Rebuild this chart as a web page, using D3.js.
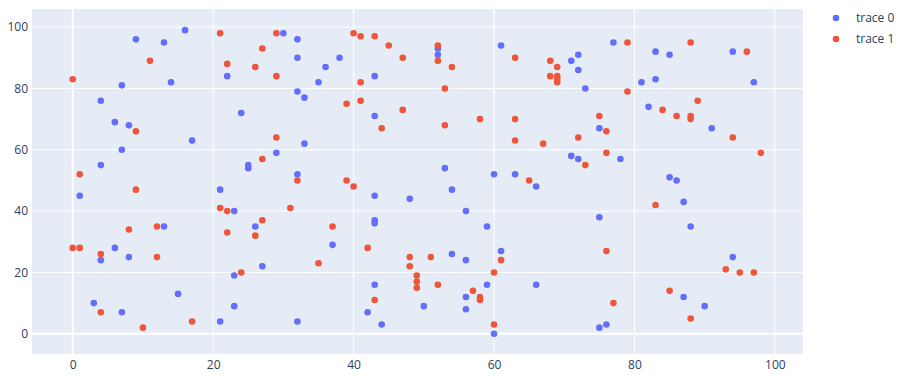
<!DOCTYPE html>
<html>
<head>
<meta charset="utf-8">
<script src="https://cdn.jsdelivr.net/npm/d3@7"></script>
<style>
  html, body { margin: 0; padding: 0; background: #fff; }
  svg { display: block; font-family: "Open Sans", "DejaVu Sans", sans-serif; }
</style>
</head>
<body>
<svg id="chart" width="910" height="379"></svg>
<script>
const traceNames = ["trace 0", "trace 1"];
const traceColors = ["#636efa", "#EF553B"];

const trace0X = [9,13,16,22,7,14,4,6,8,30,32,32,38,36,35,32,33,24,43,43,52,52,61,71,72,72,73,77,83,85,94,81,83,97,82,17,7,4,1,21,13,33,29,25,25,32,43,48,23,26,43,43,75,71,72,78,53,60,63,66,54,56,59,75,91,85,86,87,88,4,6,8,15,3,7,21,37,27,23,23,32,43,42,44,50,54,56,61,56,59,66,56,60,75,76,94,87,90];
const trace0Y = [96,95,99,84,81,82,76,69,68,98,96,90,90,87,82,79,77,72,84,71,93,91,94,89,91,86,80,95,92,91,92,82,83,82,74,63,60,55,45,47,35,62,59,55,54,52,45,44,40,35,37,36,67,58,57,57,54,52,52,48,47,40,35,38,67,51,50,43,35,24,28,25,13,10,7,4,29,22,19,9,4,16,7,3,9,26,24,27,12,16,16,8,0,2,3,25,12,9];

const trace1X = [0,21,11,22,29,27,26,29,40,41,43,45,47,41,39,41,47,52,52,54,53,53,58,63,63,68,69,68,69,69,69,75,79,88,96,79,89,84,86,88,88,9,1,9,21,22,8,12,22,44,29,27,32,39,40,31,27,37,26,63,67,72,76,76,73,65,94,98,83,0,1,4,12,4,10,17,35,24,42,48,48,49,49,49,43,51,61,60,52,57,58,58,60,76,77,93,95,97,85,88];
const trace1Y = [83,98,89,88,98,93,87,84,98,97,97,94,90,82,75,76,73,94,89,87,80,68,70,90,70,89,87,84,84,83,82,71,95,95,92,79,76,73,71,71,70,66,52,47,41,40,34,35,33,67,64,57,50,50,48,41,37,35,32,63,62,64,66,59,55,50,64,59,42,28,28,26,25,7,2,4,23,20,28,25,22,19,17,15,11,25,24,20,16,14,12,11,3,27,10,21,20,20,14,5];

const xTicks = [0, 20, 40, 60, 80, 100];
const yTicks = [0, 20, 40, 60, 80, 100];

const svg = d3.select("#chart");
const plot = { left: 32, top: 9, right: 803, bottom: 354 };

const x = d3.scaleLinear().domain([-5.8, 104.0]).range([plot.left, plot.right]);
const y = d3.scaleLinear().domain([-6.6, 105.9]).range([plot.bottom, plot.top]);

svg.append("rect")
  .attr("x", plot.left).attr("y", plot.top)
  .attr("width", plot.right - plot.left).attr("height", plot.bottom - plot.top)
  .attr("fill", "#E5ECF6");

// gridlines
const grid = svg.append("g");
xTicks.forEach(t => {
  grid.append("line")
    .attr("x1", x(t)).attr("x2", x(t))
    .attr("y1", plot.top).attr("y2", plot.bottom)
    .attr("stroke", "#fff").attr("stroke-width", t === 0 ? 2 : 1);
});
yTicks.forEach(t => {
  grid.append("line")
    .attr("x1", plot.left).attr("x2", plot.right)
    .attr("y1", y(t)).attr("y2", y(t))
    .attr("stroke", "#fff").attr("stroke-width", t === 0 ? 2 : 1);
});

// axes (labels only)
const xAxis = svg.append("g")
  .attr("transform", `translate(0,${plot.bottom})`)
  .call(d3.axisBottom(x).tickValues(xTicks).tickSize(0).tickPadding(6).tickFormat(d3.format("d")));
const yAxis = svg.append("g")
  .attr("transform", `translate(${plot.left},0)`)
  .call(d3.axisLeft(y).tickValues(yTicks).tickSize(0).tickPadding(4).tickFormat(d3.format("d")));
[xAxis, yAxis].forEach(a => {
  a.select(".domain").remove();
  a.selectAll("text")
    .attr("fill", "#2a3f5f")
    .style("font-size", "12px")
    .style("font-family", "\"Open Sans\", sans-serif");
});

// points
const series = [
  { xs: trace0X, ys: trace0Y },
  { xs: trace1X, ys: trace1Y }
];
series.forEach((s, i) => {
  const data = s.xs.map((v, k) => [v, s.ys[k]]);
  svg.append("g").selectAll("circle")
    .data(data).enter().append("circle")
    .attr("cx", d => x(d[0]))
    .attr("cy", d => y(d[1]))
    .attr("r", 3.3)
    .attr("fill", traceColors[i]);
});

// legend
const legend = svg.append("g");
traceNames.forEach((name, i) => {
  const ly = 18 + i * 21;
  legend.append("circle")
    .attr("cx", 836).attr("cy", ly).attr("r", 3.3)
    .attr("fill", traceColors[i]);
  legend.append("text")
    .attr("x", 856).attr("y", ly + 4)
    .attr("fill", "#2a3f5f")
    .style("font-size", "12px")
    .text(name);
});
</script>
</body>
</html>
